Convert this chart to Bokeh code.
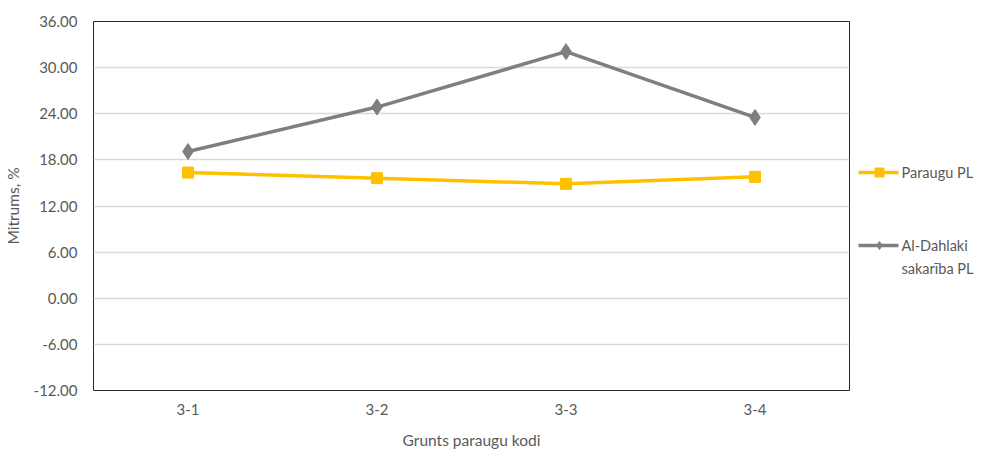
from bokeh.plotting import figure
from bokeh.models import Range1d, FactorRange, FixedTicker, NumeralTickFormatter, ColumnDataSource
from bokeh.layouts import row
from bokeh.embed import file_html
from bokeh.resources import INLINE
from bokeh.core.properties import value

# ---- data ----
categories = ["3-1", "3-2", "3-3", "3-4"]
paraugu_pl = [16.35, 15.62, 14.88, 15.79]
al_dahlaki_pl = [19.08, 24.87, 32.08, 23.52]
y_ticks = [-12, -6, 0, 6, 12, 18, 24, 30, 36]
legend_labels = ["Paraugu PL", "Al-Dahlaki", "sakarība PL"]
x_title = "Grunts paraugu kodi"
y_title = "Mitrums, %"

FONT = "Lato"
TXT = "#595959"
YELLOW = "#FFC000"
GRAY = "#7F7F7F"

src = ColumnDataSource(dict(cat=categories, par=paraugu_pl, ald=al_dahlaki_pl))

p = figure(width=851, height=452, x_range=FactorRange(*categories, range_padding=0),
           y_range=Range1d(-12, 36), output_backend="svg", toolbar_location=None,
           min_border_left=93, min_border_right=2, min_border_top=21, min_border_bottom=62)

p.line("cat", "ald", source=src, line_color=GRAY, line_width=3.5)
p.scatter("cat", "ald", source=src, marker="diamond", size=16, fill_color=GRAY, line_color=GRAY)
p.line("cat", "par", source=src, line_color=YELLOW, line_width=3.5)
p.scatter("cat", "par", source=src, marker="square", size=11, fill_color=YELLOW, line_color=YELLOW)

p.outline_line_color = "#262626"
p.outline_line_width = 1
p.xgrid.visible = False
p.ygrid.grid_line_color = "#D9D9D9"
p.ygrid.grid_line_width = 1.5
p.ygrid.ticker = FixedTicker(ticks=y_ticks)

p.yaxis.ticker = FixedTicker(ticks=y_ticks)
p.yaxis.formatter = NumeralTickFormatter(format="0.00")
for ax in (p.xaxis[0], p.yaxis[0]):
    ax.axis_line_color = None
    ax.major_tick_line_color = None
    ax.minor_tick_line_color = None
    ax.major_tick_out = 0
    ax.major_tick_in = 0
    ax.major_label_text_font = FONT
    ax.major_label_text_font_size = "15px"
    ax.major_label_text_color = TXT
    ax.axis_label_text_font = FONT
    ax.axis_label_text_font_size = "15.5px"
    ax.axis_label_text_color = TXT
    ax.axis_label_text_font_style = "normal"

p.yaxis.major_label_standoff = 16
p.yaxis.axis_label = y_title
p.yaxis.axis_label_standoff = 9
p.xaxis.major_label_standoff = 13
p.xaxis.axis_label = x_title
p.xaxis.axis_label_standoff = 13

# ---- legend panel (frame aligned with the main plot frame: page y 21..390) ----
lg = figure(width=132, height=452, x_range=Range1d(0, 132), y_range=Range1d(390, 21),
            output_backend="svg", toolbar_location=None,
            min_border_left=0, min_border_right=0, min_border_top=21, min_border_bottom=62)
lg.axis.visible = False
lg.grid.visible = False
lg.outline_line_color = None

lg.line([7, 47], [172, 172], line_color=YELLOW, line_width=3.5)
lg.scatter([28], [172], marker="square", size=9, fill_color=YELLOW, line_color=YELLOW)
lg.line([7, 47], [245, 245], line_color=GRAY, line_width=3.5)
lg.scatter([28], [245], marker="diamond", size=8, fill_color=GRAY, line_color=GRAY)
lg.text([50, 50, 50], [172, 245, 268], text=legend_labels, text_font=value(FONT),
        text_font_size="14.5px", text_color=TXT, text_baseline="middle", text_align="left")

layout = row(p, lg)
open("out.html", "w").write(file_html(layout, INLINE))
